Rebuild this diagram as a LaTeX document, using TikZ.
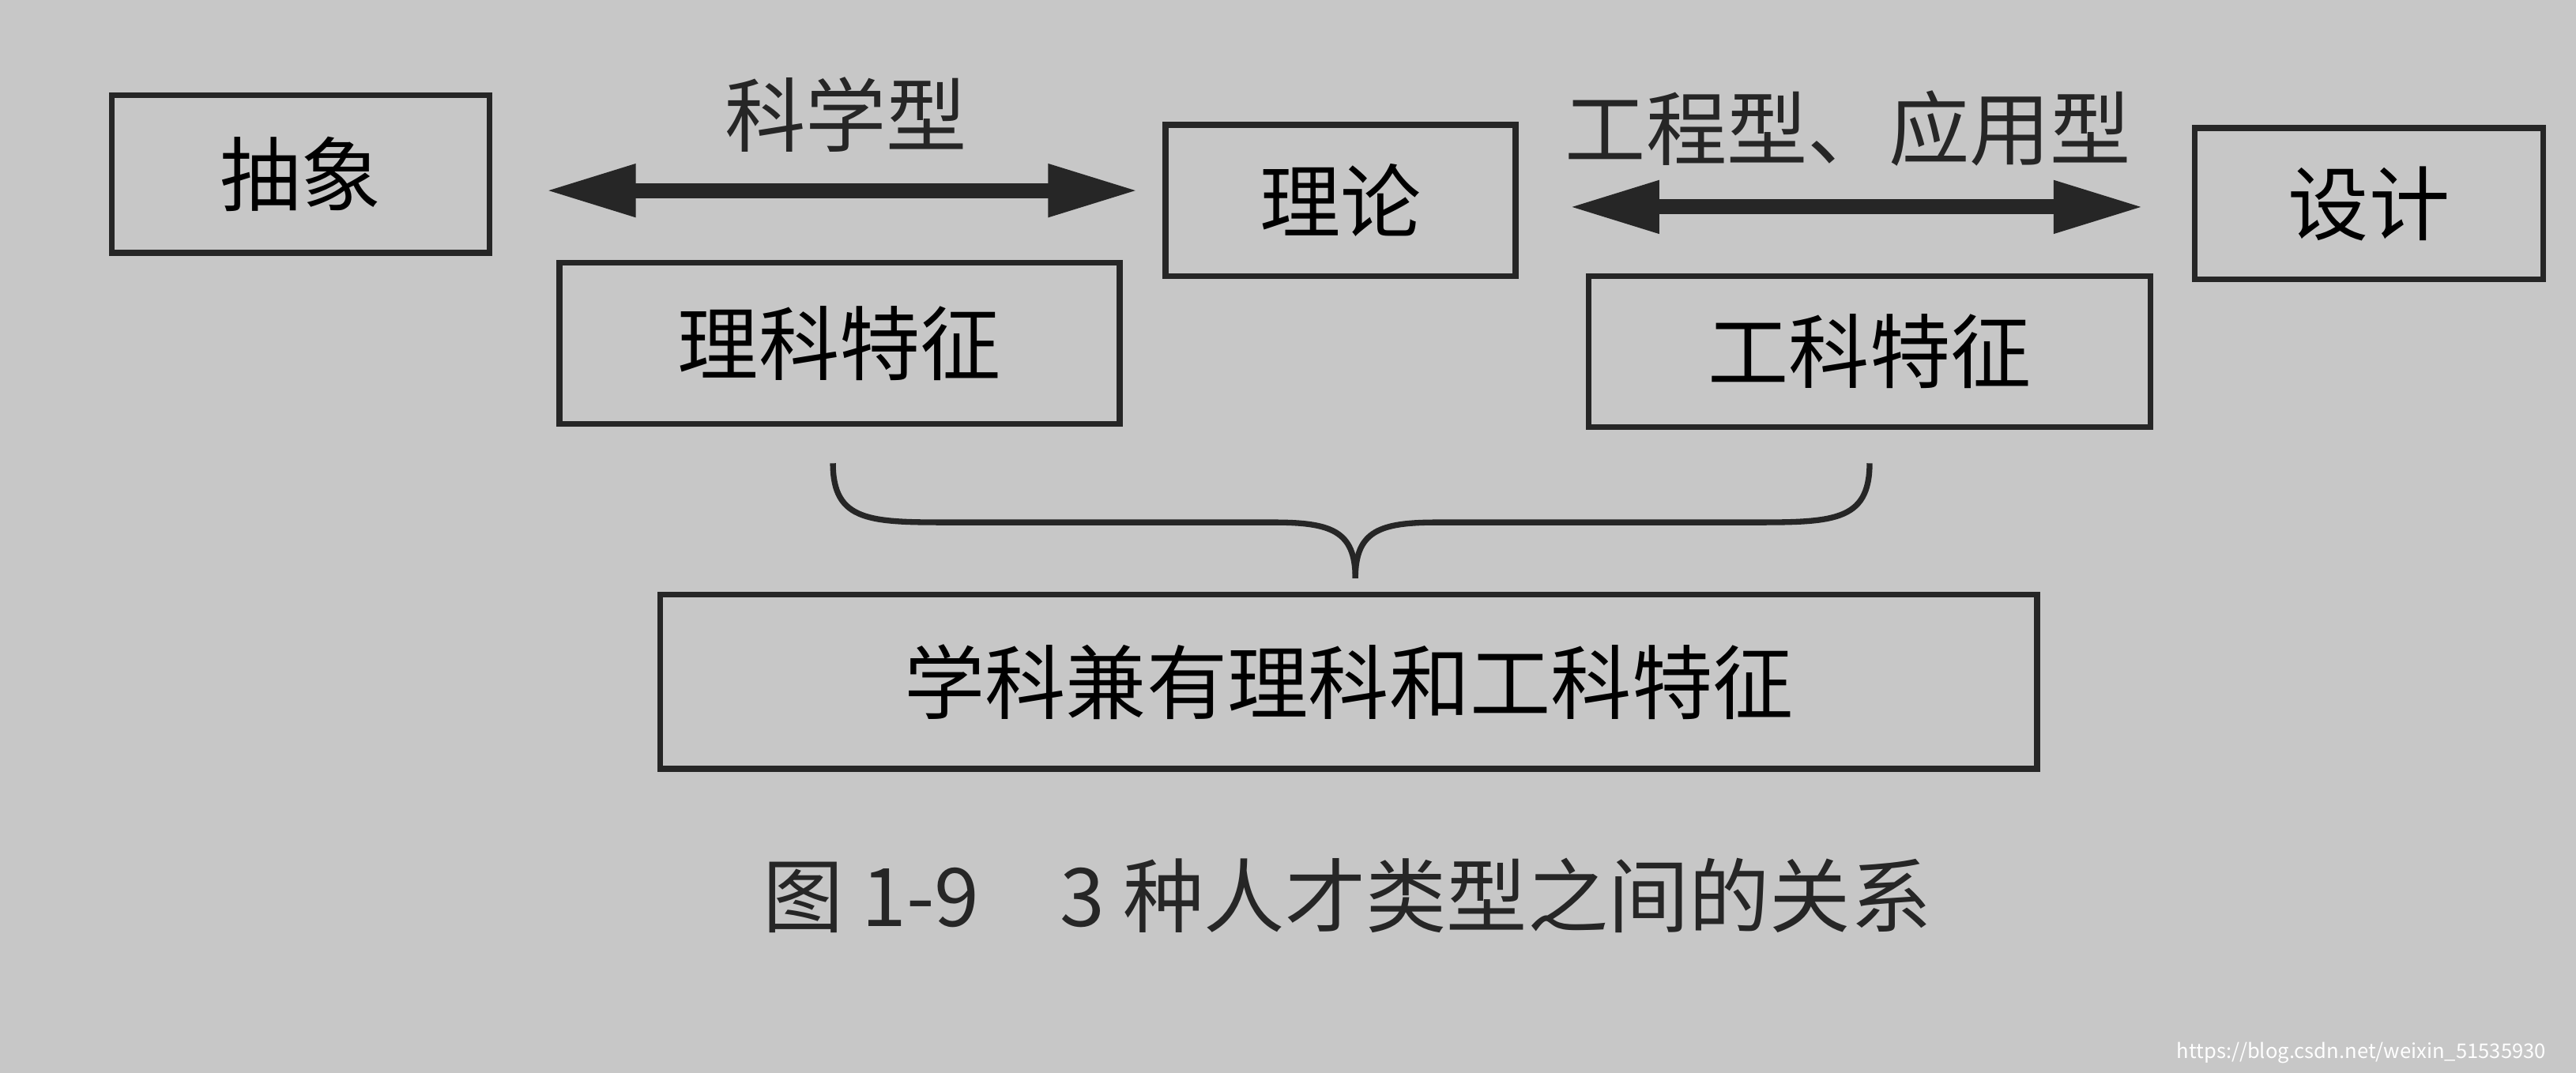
\documentclass[tikz,border=0pt]{standalone}
\usepackage{fontspec}
\setmainfont{Noto Sans CJK SC}
\usetikzlibrary{arrows.meta}
\tikzset{
  box/.style={draw=black!85,line width=1pt,minimum width=#1,inner sep=0pt,font=\fontsize{14}{16}\selectfont},
  dblarrow/.style={{Triangle[length=0.55cm,width=0.3cm]}-{Triangle[length=0.55cm,width=0.3cm]},line width=2.6pt,black!85},
  lbl/.style={font=\fontsize{14}{16}\selectfont,text=black!85}
}
\begin{document}
\begin{tikzpicture}
\fill[black!22] (0,0) rectangle (15.68,6.53);
\useasboundingbox (0,0) rectangle (15.68,6.53);
% top row
\node[box=2.30cm,minimum height=0.96cm] (abs) at (1.83,5.47) {抽象};
\node[box=2.13cm,minimum height=0.92cm] (thy) at (8.16,5.31) {理论};
\node[box=2.12cm,minimum height=0.92cm] (des) at (14.42,5.29) {设计};
% features
\node[box=3.41cm,minimum height=0.98cm] (sci) at (5.11,4.44) {理科特征};
\node[box=3.42cm,minimum height=0.92cm] (eng) at (11.38,4.39) {工科特征};
\node[box=8.38cm,minimum height=1.06cm] (both) at (8.21,2.38) {学科兼有理科和工科特征};
% arrows
\coordinate (a1l) at (3.32,5.37);
\coordinate (a1r) at (6.93,5.37);
\coordinate (a2l) at (9.55,5.27);
\coordinate (a2r) at (13.05,5.27);
\draw[dblarrow] (a1l) -- (a1r);
\draw[dblarrow] (a2l) -- (a2r);
\node[lbl] (l1) at (5.15,5.83) {科学型};
\node[lbl] (l2) at (11.25,5.75) {工程型、应用型};
% brace
\coordinate (bl) at (5.07,3.71);
\coordinate (br) at (11.38,3.71);
\coordinate (bt) at (8.25,3.01);
\draw[line width=1pt,black!85] (bl) .. controls (5.07,3.35) and (5.3,3.35) .. (5.8,3.35)
  -- (7.75,3.35) .. controls (8.1,3.35) and (8.25,3.3) .. (bt);
\draw[line width=1pt,black!85] (br) .. controls (11.38,3.35) and (11.15,3.35) .. (10.65,3.35)
  -- (8.75,3.35) .. controls (8.4,3.35) and (8.25,3.3) .. (bt);
% caption
\node[font=\fontsize{14}{16}\selectfont,text=black!85] (cap) at (8.2,1.08) {图 1-9\quad 3 种人才类型之间的关系};
\node[font=\fontsize{3.5}{4}\selectfont,text=white,anchor=east] (wm) at (15.62,0.12) {https://blog.csdn.net/weixin\_51535930};
\end{tikzpicture}
\end{document}
